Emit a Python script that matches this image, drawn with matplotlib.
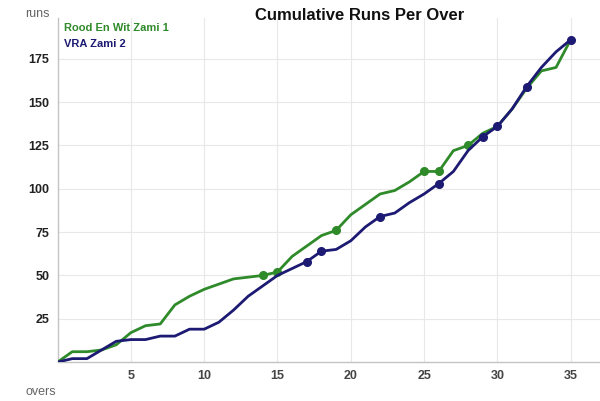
import numpy as np
import matplotlib
matplotlib.use("Agg")
import matplotlib.pyplot as plt

plt.rcParams['font.family'] = ['Liberation Sans', 'DejaVu Sans']

# ==============================
# Data
# ==============================
overs = list(range(0, 36))

team1_name = "Rood En Wit Zami 1"
team1_runs = [0, 6, 6, 7, 10, 17, 21, 22, 33, 38, 42, 45, 48, 49, 50, 52,
              61, 67, 73, 76, 85, 91, 97, 99, 104, 110, 110, 122, 125, 132,
              136, 146, 158, 168, 170, 186]
team1_wickets = [14, 15, 19, 25, 26, 28]

team2_name = "VRA Zami 2"
team2_runs = [0, 2, 2, 7, 12, 13, 13, 15, 15, 19, 19, 23, 30, 38, 44, 50,
              54, 58, 64, 65, 70, 78, 84, 86, 92, 97, 103, 110, 122, 130,
              136, 146, 159, 170, 179, 186]
team2_wickets = [17, 18, 22, 26, 29, 30, 32, 35]

x_ticks = [5, 10, 15, 20, 25, 30, 35]
y_ticks = [25, 50, 75, 100, 125, 150, 175]

green = "#2f8a2a"
navy = "#1c1a72"

# ==============================
# Plot
# ==============================
fig = plt.figure(figsize=(6, 4.01), dpi=100)
ax = fig.add_axes([0.096, 0.097, 0.904, 0.858])

ax.plot(overs, team1_runs, color=green, lw=2.0, solid_capstyle="round", zorder=3)
ax.plot(team1_wickets, [team1_runs[o] for o in team1_wickets], "o",
        color=green, ms=5.5, zorder=4)

ax.plot(overs, team2_runs, color=navy, lw=2.0, solid_capstyle="round", zorder=5)
ax.plot(team2_wickets, [team2_runs[o] for o in team2_wickets], "o",
        color=navy, ms=5.5, zorder=6)

ax.set_xlim(0, 37)
ax.set_ylim(0, 198.5)
ax.set_xticks(x_ticks)
ax.set_yticks(y_ticks)
ax.grid(True, color="#e8e8e8", lw=0.8)
ax.set_axisbelow(True)

for s in ["top", "right"]:
    ax.spines[s].set_visible(False)
for s in ["left", "bottom"]:
    ax.spines[s].set_color("#c4c4c4")
    ax.spines[s].set_linewidth(1.0)

ax.tick_params(length=0, pad=6)
for lab in ax.get_yticklabels():
    lab.set_fontsize(9)
    lab.set_fontweight("bold")
    lab.set_color("#222222")
for lab in ax.get_xticklabels():
    lab.set_fontsize(9)
    lab.set_fontweight("bold")
    lab.set_color("#444444")

fig.text(0.6, 0.962, "Cumulative Runs Per Over", ha="center", va="center",
         fontsize=12, fontweight="bold", color="#111111")
fig.text(0.062, 0.965, "runs", ha="center", va="center", fontsize=9, color="#666666")
fig.text(0.068, 0.022, "overs", ha="center", va="center", fontsize=9, color="#666666")

ax.text(0.012, 0.97, team1_name, transform=ax.transAxes, ha="left", va="center",
        fontsize=8, fontweight="bold", color=green)
ax.text(0.012, 0.925, team2_name, transform=ax.transAxes, ha="left", va="center",
        fontsize=8, fontweight="bold", color=navy)

fig.savefig("out.png", dpi=100)
